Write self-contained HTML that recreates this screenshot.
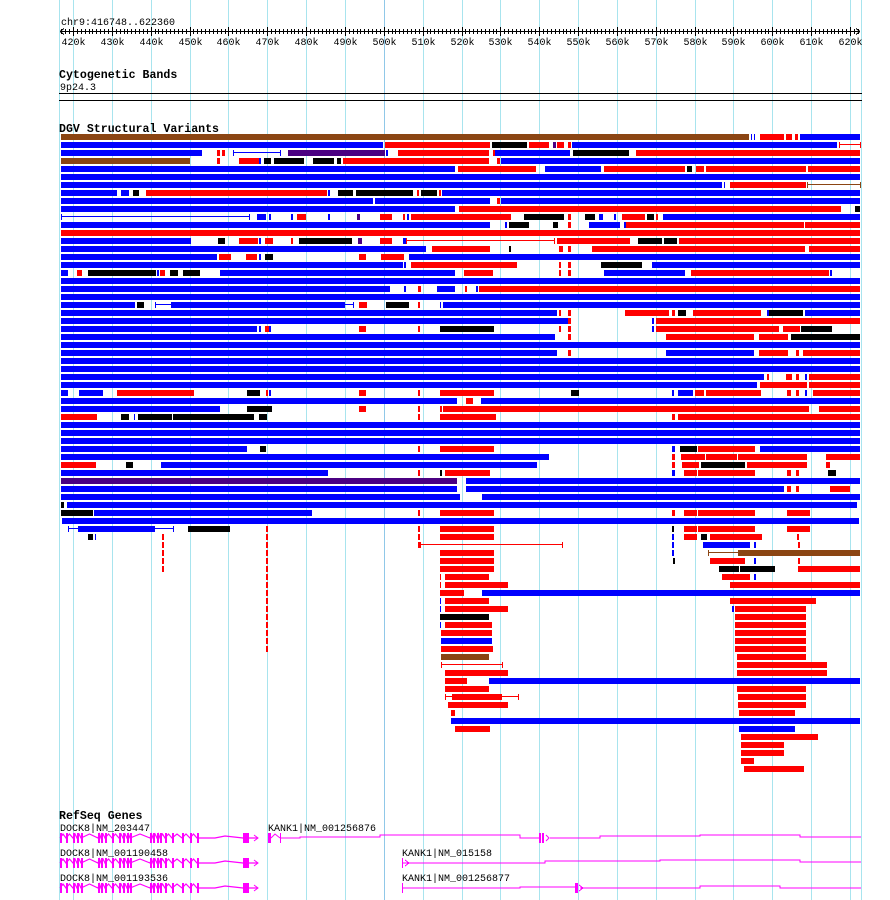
<!DOCTYPE html>
<html><head><meta charset="utf-8">
<style>
html,body{margin:0;padding:0;background:#fff;}
body{width:890px;height:900px;overflow:hidden;position:relative;}
svg{position:absolute;left:0;top:0;}
text{font-family:"Liberation Mono","DejaVu Sans Mono",monospace;font-size:10px;fill:#000;}
.t{font-weight:bold;font-size:11.6px;}
</style></head>
<body>
<svg id="s" width="890" height="900" xmlns="http://www.w3.org/2000/svg" shape-rendering="crispEdges">
<g id="grid" stroke="#a8e4ee" stroke-width="1"></g>
<text x="61" y="25">chr9:416748..622360</text>
<g id="ruler"></g>
<text class="t" x="59" y="78">Cytogenetic Bands</text>
<text x="60" y="90">9p24.3</text>
<rect x="59" y="93" width="803" height="1" fill="#000"/>
<rect x="59" y="100" width="803" height="1" fill="#000"/>
<text class="t" x="59" y="132">DGV Structural Variants</text>
<g id="bars"></g>
<text class="t" x="59" y="819">RefSeq Genes</text>
<text x="60" y="831">DOCK8|NM_203447</text>
<text x="60" y="856">DOCK8|NM_001190458</text>
<text x="60" y="881">DOCK8|NM_001193536</text>
<text x="268" y="831">KANK1|NM_001256876</text>
<text x="402" y="856">KANK1|NM_015158</text>
<text x="402" y="881">KANK1|NM_001256877</text>
<g id="genes" fill="#ff00ff" stroke="#ff00ff"></g>
</svg>
<script>
var NS="http://www.w3.org/2000/svg";
function el(p,n,a){var e=document.createElementNS(NS,n);for(var k in a)e.setAttribute(k,a[k]);p.appendChild(e);return e;}
var S=document.getElementById('s'),G=document.getElementById('grid'),R=document.getElementById('ruler'),B=document.getElementById('bars'),GN=document.getElementById('genes');
// grid
var xs=[59,861];for(var k=0;k<=20;k++)xs.push(73+38.85*k);
xs.forEach(function(x){el(G,'line',{x1:Math.round(x)+0.5,x2:Math.round(x)+0.5,y1:0,y2:900,stroke:(Math.abs(x-384.6)<1?'#90c8e8':'#a8e4ee')});});
// ruler
el(R,'rect',{x:60,y:31,width:800,height:1,fill:'#000'});
el(R,'path',{d:'M60 31.5 L64 28.5 M60 31.5 L64 34.5 M860 31.5 L856 28.5 M860 31.5 L856 34.5',stroke:'#000',fill:'none'});
for(var p=417000;p<=622000;p+=1000){var x=Math.round(73+(p-420000)*0.003885)+0.5;var maj=(p%10000==0);
el(R,'line',{x1:x,x2:x,y1:maj?27:29,y2:maj?36:34,stroke:'#000'});
if(maj){var t=el(R,'text',{x:x,y:45,'text-anchor':'middle'});t.textContent=(p/1000)+'k';}}
// bars
var C={b:'#0000ff',r:'#ff0000',k:'#000000',n:'#8b4513',p:'#4b0082',B:'#0000ff',R:'#ff0000',N:'#8b4513'};
var rows=[
"n61-749 b751-752 b754-755 r760-784 r786-792 r795-798 b800-860",
"b61-383 r385-490 k492-527 r529-549 p553-556 r557-564 r568-571 b572-837 R839-860",
"b61-202 r217-220 r222-225 B233-280 p288-385 b386-388 r398-489 r493-495 b495-570 k573-629 r636-860",
"n61-190 r217-220 r239-259 b259-261 k264-271 k274-304 k313-334 k337-341 r343-489 r497-500 b501-860",
"b61-455 r458-536 b545-601 r604-685 k687-692 r696-704 r706-806 r808-860",
"b61-860",
"b61-722 b724-725 r730-806 N807-860",
"b61-117 b121-129 k133-139 r146-327 b328-330 k338-353 k356-413 r417-419 k421-437 r439-441 b442-860",
"b61-373 b375-490 r497-500 b501-860",
"b61-455 r459-841 k855-860",
"B61-249 b257-266 b269-271 b291-293 r297-306 b328-330 p357-360 r380-392 r403-405 b407-409 r411-511 k524-564 r568-571 k585-595 b599-603 b614-616 r622-645 k647-654 r656-658 b663-860",
"b61-490 b505-507 k509-529 k553-558 r568-571 b589-620 b624-626 r626-804 r805-860",
"r61-860",
"b61-191 k218-225 r239-258 b259-261 r265-273 r291-293 k299-352 p358-362 r380-392 b403-406 R406-554 r557-630 k638-662 k664-677 r679-860",
"b61-426 r432-490 k509-511 r559-563 r568-571 r592-805 r809-860",
"b61-217 r219-231 r246-257 b259-261 k265-273 r359-366 r381-404 b409-860",
"b61-403 b404-406 r411-517 r559-561 r568-571 k601-642 b652-860",
"b61-68 r77-82 k88-156 b157-159 r160-165 k170-178 k183-200 b220-455 r464-493 r559-561 r568-571 b604-685 r691-829 b830-832",
"b61-860",
"b61-390 b404-406 r418-421 b437-455 r465-467 b476-478 r479-860",
"b61-860",
"b61-135 k137-144 B155-171 b171-344 B344-353 r359-367 k386-409 r418-420 b440-441 b443-860",
"b61-557 r559-561 r568-571 r625-669 r672-675 k678-686 r693-761 b767-769 k769-803 b805-860",
"b61-568 r568-571 b652-654 r656-860",
"b61-257 b259-261 r265-269 b269-271 r359-366 r418-420 k440-494 r559-561 r568-571 b652-654 r656-779 r783-800 k801-832",
"b61-555 r568-571 r666-754 r759-788 k791-860",
"b61-860",
"b61-557 r568-571 b666-754 r759-788 r796-799 r803-860",
"b61-860",
"b61-860",
"b61-764 r767-769 r786-792 r796-799 b805-807 r809-860",
"b61-757 r760-807 r809-860",
"b61-68 b79-103 r117-194 k247-260 r266-268 b269-271 r359-366 r418-420 r440-494 k571-579 b672-674 b678-693 r695-704 r706-761 r787-791 r796-799 b805-807 r813-860",
"b61-457 r466-473 b481-860",
"b61-220 k247-272 r359-366 r418-420 r440-442 r443-809 r819-860",
"r61-97 k121-129 b134-135 k138-172 k173-254 k259-267 r418-420 r440-496 r672-675 r678-860",
"b61-860","b61-860","b61-860",
"b61-247 k260-266 r418-420 r440-494 b672-675 k680-697 r698-755 b760-860",
"b61-549 r672-675 r681-705 r706-737 r738-807 r826-860",
"r61-96 k126-133 b161-537 r672-675 r682-699 k701-745 r747-807 r826-830",
"b61-328 r418-420 k440-442 r445-490 b672-675 r684-697 r698-755 r787-791 r796-799 k828-836",
"p61-457 b466-860",
"b61-457 b466-784 r787-791 r796-799 r830-850",
"b61-460 b482-860",
"k61-64 b67-857",
"k61-93 b94-312 r418-420 r440-494 r672-675 r684-697 r698-755 r787-810",
"b62-859",
"B68-173 b78-155 k188-230 r266-268 r418-420 r440-494 k672-674 r684-697 r698-755 r787-810",
"k88-93 b95-96 r162-164 r266-268 r418-420 r440-494 b672-674 r684-697 k701-707 r710-762 r797-799",
"r162-164 r266-268 r418-420 R420-562 b672-674 b703-750 b754-756 r798-800",
"r162-164 r266-268 r440-494 b672-674 N708-738 n738-860",
"r162-164 r266-268 r440-494 k673-675 r710-745 b754-756 r798-800",
"r162-164 r266-268 r440-494 k719-739 k740-775 r798-860",
"r266-268 r440-441 r445-489 r722-750 b754-756",
"r266-268 r440-441 r445-508 r730-860",
"r266-268 r440-464 b482-860",
"r266-268 b440-441 r445-489 r730-816",
"r266-268 b440-441 r445-508 b732-734 r735-806",
"r266-268 k440-489 r735-806",
"r266-268 b440-441 r445-492 r735-806",
"r266-268 r441-492 r735-806",
"r266-268 b441-492 r735-806",
"r266-268 r441-493 r735-806",
"n441-489 r737-806",
"R441-502 r737-827",
"r445-508 r737-827",
"r445-467 b489-860",
"r445-489 r737-806",
"R445-518 r452-502 r738-806",
"r448-508 r738-806",
"r451-455 r739-795",
"b451-860",
"r455-490 b739-795",
"r741-818","r741-784","r741-784","r741-754","r744-804"];
rows.forEach(function(r,i){var y=134+8*i;r.split(' ').forEach(function(tk){
var c=tk[0],m=tk.slice(1).split('-'),a=+m[0],b=+m[1];
if(c=='B'||c=='R'||c=='N'){el(B,'rect',{x:a,y:y+2,width:b-a+1,height:1,fill:C[c]});el(B,'rect',{x:a,y:y,width:1,height:6,fill:C[c]});el(B,'rect',{x:b,y:y,width:1,height:6,fill:C[c]});}
else el(B,'rect',{x:a,y:y,width:Math.max(1,b-a),height:6,fill:C[c]});});});
// genes
var ex=[60,66,73,77,81,98,101,105,112,119,123,127,130,150,153,157,160,165,172,182,190,197];
[838,863,888].forEach(function(y){
var d='M'+ex[0]+' '+y;
for(var i=0;i<ex.length-1;i++){var a=ex[i],b=ex[i+1],m=(a+b)/2;d+=' L'+m+' '+(y-4)+' L'+b+' '+y;}
d+=' L215 '+y+' L225 '+(y-2)+' L243 '+y+' L258 '+y;
el(GN,'path',{d:d,fill:'none','stroke-width':1.2,'shape-rendering':'auto'});
ex.forEach(function(x){el(GN,'rect',{x:x,y:y-5,width:2,height:10,stroke:'none'});});
el(GN,'rect',{x:243,y:y-5,width:6,height:10,stroke:'none'});
el(GN,'path',{d:'M254 '+(y-3)+' L258 '+y+' L254 '+(y+3),fill:'none','shape-rendering':'auto'});
});
// KANK1 transcripts
el(GN,'rect',{x:268,y:833,width:3,height:10,stroke:'none'});
el(GN,'path',{d:'M271 838 L275 834 L280 838',fill:'none','shape-rendering':'auto'});
el(GN,'rect',{x:280,y:833,width:1,height:10,stroke:'none'});
el(GN,'path',{d:'M281 838 L300 838 L300 837 L380 837 L380 835 L520 835 L520 838 L539 838 M550 838 L600 838 L600 836 L700 836 L700 835 L800 835 L800 837 L861 837',fill:'none','shape-rendering':'crispEdges'});
el(GN,'rect',{x:539,y:833,width:2,height:10,stroke:'none'});
el(GN,'rect',{x:542,y:833,width:2,height:10,stroke:'none'});
el(GN,'path',{d:'M546 835 L549 838 L546 841',fill:'none','shape-rendering':'auto'});
el(GN,'rect',{x:402,y:858,width:1,height:10,stroke:'none'});
el(GN,'path',{d:'M403 863 L545 863 L545 861 L660 861 L660 860 L800 860 L800 862 L861 862 M405 860 L409 863 L405 866',fill:'none'});
el(GN,'rect',{x:402,y:883,width:1,height:10,stroke:'none'});
el(GN,'path',{d:'M403 888 L520 888 L520 887 L575 887 M580 888 L700 888 L700 886 L780 886 L780 888 L861 888 M579 885 L583 888 L579 891',fill:'none'});
el(GN,'rect',{x:575,y:883,width:3,height:10,stroke:'none'});
</script>
</body></html>
